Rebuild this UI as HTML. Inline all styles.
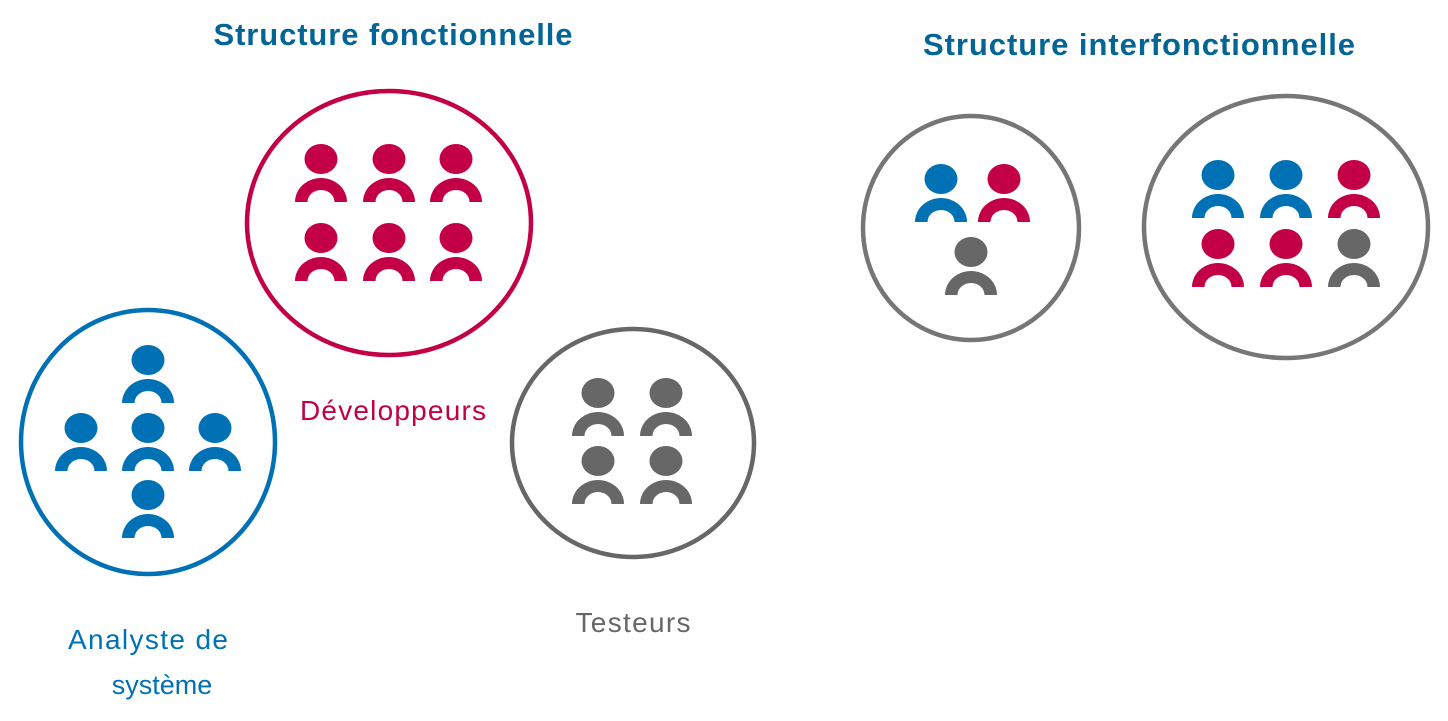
<!DOCTYPE html>
<html><head><meta charset="utf-8"><style>
html,body{margin:0;padding:0;background:#fff;}
svg{display:block;}
text{font-family:"Liberation Sans",Arial,sans-serif;}
</style></head><body>
<svg width="1448" height="721" viewBox="0 0 1448 721" xmlns="http://www.w3.org/2000/svg">
<defs>
<g id="p">
<ellipse cx="0" cy="0" rx="16.5" ry="15"/>
<path d="M-26,43 A26,24 0 0 1 26,43 L13.5,43 A13.5,12 0 0 0 -13.5,43 Z"/>
</g>
</defs>
<text x="393" y="45" text-anchor="middle" font-size="31" font-weight="bold" fill="#036596" textLength="359">Structure fonctionnelle</text>
<text x="1139" y="55" text-anchor="middle" font-size="31" font-weight="bold" fill="#036596" textLength="432">Structure interfonctionnelle</text>

<g fill="none" stroke-width="4.5">
<ellipse cx="389" cy="223" rx="142" ry="132" stroke="#c30045"/>
<ellipse cx="148" cy="442" rx="127" ry="132" stroke="#0071b4"/>
<ellipse cx="633" cy="443" rx="121" ry="114" stroke="#676767"/>
<ellipse cx="971" cy="228" rx="108" ry="112" stroke="#767676"/>
<ellipse cx="1286" cy="227" rx="142" ry="131" stroke="#767676"/>
</g>

<g fill="#c30045">
<use href="#p" x="321" y="159"/><use href="#p" x="389" y="159"/><use href="#p" x="456" y="159"/>
<use href="#p" x="321" y="238"/><use href="#p" x="389" y="238"/><use href="#p" x="456" y="238"/>
</g>
<g fill="#0071b4">
<use href="#p" x="148" y="360"/>
<use href="#p" x="81" y="428"/><use href="#p" x="148" y="428"/><use href="#p" x="215" y="428"/>
<use href="#p" x="148" y="495"/>
</g>
<g fill="#676767">
<use href="#p" x="598" y="393"/><use href="#p" x="666" y="393"/>
<use href="#p" x="598" y="461"/><use href="#p" x="666" y="461"/>
</g>
<use href="#p" x="941" y="179" fill="#0071b4"/>
<use href="#p" x="1004" y="179" fill="#c30045"/>
<use href="#p" x="971" y="252" fill="#676767"/>
<use href="#p" x="1218" y="175" fill="#0071b4"/>
<use href="#p" x="1286" y="175" fill="#0071b4"/>
<use href="#p" x="1354" y="175" fill="#c30045"/>
<use href="#p" x="1218" y="244" fill="#c30045"/>
<use href="#p" x="1286" y="244" fill="#c30045"/>
<use href="#p" x="1354" y="244" fill="#676767"/>

<text x="393" y="420" text-anchor="middle" font-size="28" fill="#c30045" textLength="186">Développeurs</text>
<text x="633" y="632" text-anchor="middle" font-size="28" fill="#676767" textLength="115">Testeurs</text>
<text x="148" y="649" text-anchor="middle" font-size="28" fill="#0071b4" textLength="160">Analyste de</text>
<text x="162" y="694" text-anchor="middle" font-size="27" fill="#0071b4">système</text>
</svg>
</body></html>
